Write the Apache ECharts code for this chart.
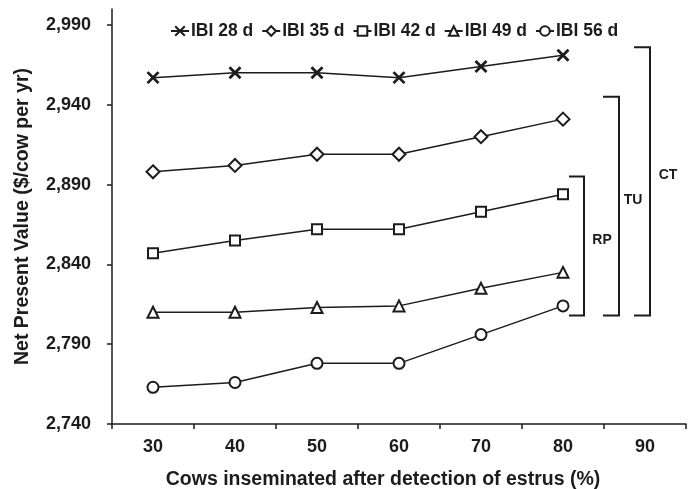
<!DOCTYPE html>
<html>
<head>
<meta charset="utf-8">
<script src="https://cdn.jsdelivr.net/npm/echarts@6/dist/echarts.min.js"></script>
<style>html,body{margin:0;padding:0;background:#fff}#c{width:691px;height:489px}</style>
</head>
<body>
<div id="c"></div>
<script>
const categories = ['30', '40', '50', '60', '70', '80', '90'];
const ibi28 = [2957, 2960, 2960, 2957, 2964, 2971];
const ibi35 = [2898, 2902, 2909, 2909, 2920, 2931];
const ibi42 = [2847, 2855, 2862, 2862, 2873, 2884];
const ibi49 = [2810, 2810, 2813, 2814, 2825, 2835];
const ibi56 = [2763, 2766, 2778, 2778, 2796, 2814];
const yTicks = [2740, 2790, 2840, 2890, 2940, 2990];
const seriesNames = ['IBI 28 d', 'IBI 35 d', 'IBI 42 d', 'IBI 49 d', 'IBI 56 d'];
const bracketNames = ['RP', 'TU', 'CT'];
const bracketTop = [2895, 2945, 2976];
const bracketBottom = [2808, 2808, 2808];

const FONT = '"Liberation Sans", Arial, sans-serif';
const INK = '#1c1c1c';
const symbols = [
  'path://M0,0L10,10M10,0L0,10',
  'diamond', 'rect', 'triangle', 'circle'
];
const sizes = [11, 13, 10, 11, 11];
const allData = [ibi28, ibi35, ibi42, ibi49, ibi56];

const lineSeries = allData.map((d, i) => ({
  name: seriesNames[i],
  type: 'line',
  data: d,
  symbol: symbols[i],
  symbolSize: sizes[i],
  showAllSymbol: true,
  lineStyle: { color: INK, width: 1.5 },
  itemStyle: { color: i === 0 ? INK : '#fff', borderColor: INK, borderWidth: i === 0 ? 2.8 : 2 },
  emphasis: { disabled: true },
  z: 3
}));

// bracket offsets (px) relative to the centre of the last data category
const bracketOffsets = [[6, 21, 18], [40, 56, 14], [71, 87, 18]];
const bracketData = bracketNames.map((n, i) => [5, bracketTop[i], bracketBottom[i], i]);

const bracketSeries = {
  type: 'custom',
  coordinateSystem: 'cartesian2d',
  data: bracketData,
  encode: { x: 0, y: [1, 2] },
  silent: true,
  clip: false,
  renderItem: function (params, api) {
    const idx = api.value(3);
    const top = api.coord([api.value(0), api.value(1)]);
    const bot = api.coord([api.value(0), api.value(2)]);
    const off = bracketOffsets[idx];
    const x0 = top[0] + off[0], x1 = top[0] + off[1];
    return {
      type: 'group',
      children: [
        { type: 'polyline', shape: { points: [[x0, top[1]], [x1, top[1]], [x1, bot[1]], [x0, bot[1]]] },
          style: { stroke: INK, lineWidth: 2, fill: null } },
        { type: 'text', x: x1 + off[2], y: (top[1] + bot[1]) / 2 - 6,
          style: { text: bracketNames[idx], fill: INK, font: 'bold 14px ' + FONT, align: 'center', verticalAlign: 'middle' } }
      ]
    };
  },
  z: 2
};

const chart = echarts.init(document.getElementById('c'), null, { renderer: 'canvas' });
chart.setOption({
  animation: false,
  backgroundColor: '#fff',
  textStyle: { fontFamily: FONT },
  grid: { left: 112, right: 5, top: 9, bottom: 65, containLabel: false, outerBoundsMode: 'none' },
  legend: {
    data: seriesNames,
    left: 165, top: 17,
    itemWidth: 18, itemHeight: 12, itemGap: 8,
    textStyle: { fontFamily: FONT, fontWeight: 'bold', fontSize: 17.5, color: INK, padding: [0, 0, 0, -3] },
    selectedMode: false
  },
  xAxis: {
    type: 'category',
    data: categories,
    boundaryGap: true,
    name: 'Cows inseminated after detection of estrus (%)',
    nameLocation: 'middle',
    nameGap: 46,
    nameTextStyle: { fontFamily: FONT, fontWeight: 'bold', fontSize: 19.5, color: INK, padding: [0, 32, 0, 0] },
    axisLine: { lineStyle: { color: INK, width: 1.5 } },
    axisTick: { show: true, alignWithLabel: false, length: 5, lineStyle: { color: INK, width: 1.5 } },
    axisLabel: { fontFamily: FONT, fontWeight: 'bold', fontSize: 18, color: INK, margin: 14 },
    splitLine: { show: false }
  },
  yAxis: {
    type: 'value',
    min: 2740, max: 3000, interval: 50,
    name: 'Net Present Value ($/cow per yr)',
    nameLocation: 'middle',
    nameGap: 79,
    nameTextStyle: { fontFamily: FONT, fontWeight: 'bold', fontSize: 19.5, color: INK },
    axisLine: { show: true, lineStyle: { color: INK, width: 1.5 } },
    axisTick: { show: true, length: 5, lineStyle: { color: INK, width: 1.5 }, customValues: yTicks },
    axisLabel: {
      fontFamily: FONT, fontWeight: 'bold', fontSize: 18, color: INK, margin: 21,
      customValues: yTicks,
      formatter: v => v.toLocaleString('en-US')
    },
    splitLine: { show: false }
  },
  series: lineSeries.concat([bracketSeries])
});
</script>
</body>
</html>
